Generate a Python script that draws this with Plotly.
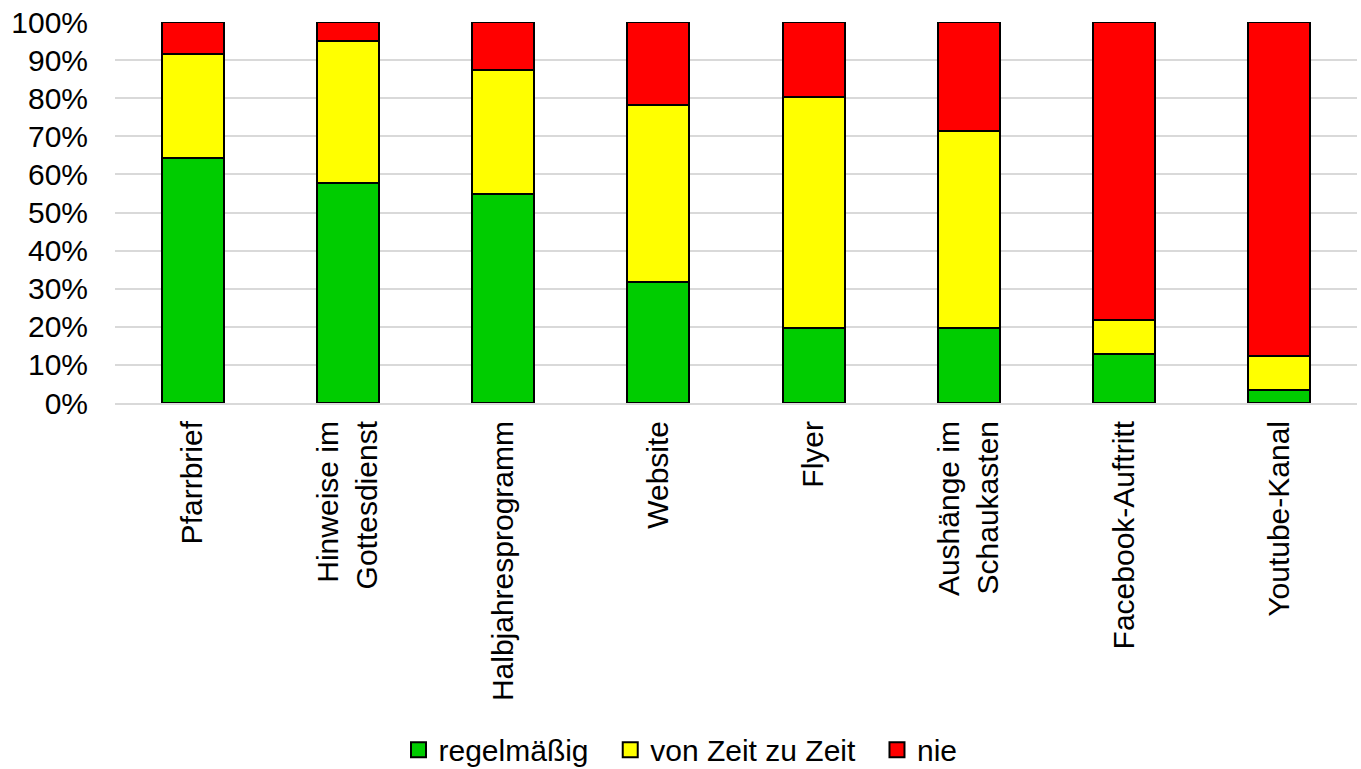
import plotly.graph_objects as go

categories = [
    "Pfarrbrief",
    "Hinweise im<br>Gottesdienst",
    "Halbjahresprogramm",
    "Website",
    "Flyer",
    "Aushänge im<br>Schaukasten",
    "Facebook-Auftritt",
    "Youtube-Kanal",
]
regelmaessig = [64.3, 57.7, 54.9, 31.8, 19.7, 19.7, 12.9, 3.4]
von_zeit_zu_zeit = [27.3, 37.3, 32.5, 46.4, 60.6, 51.7, 8.9, 8.9]
nie = [8.4, 5.0, 12.6, 21.8, 19.7, 28.6, 78.2, 87.7]
y_ticks = [0, 10, 20, 30, 40, 50, 60, 70, 80, 90, 100]

series = [
    ("regelmäßig", regelmaessig, "#00cc00"),
    ("von Zeit zu Zeit", von_zeit_zu_zeit, "#ffff00"),
    ("nie", nie, "#ff0000"),
]

fig = go.Figure()
for name, values, color in series:
    fig.add_trace(go.Bar(
        x=categories,
        y=values,
        name=name,
        legendgroup=name,
        showlegend=False,
        marker=dict(color=color, line=dict(color="#000000", width=2)),
        width=0.4,
    ))

# Legend entries: larger outlined squares than the default bar swatch
for i, (name, values, color) in enumerate(series):
    pad = "\u00a0\u00a0" if i < len(series) - 1 else ""
    fig.add_trace(go.Scatter(
        x=[None],
        y=[None],
        mode="markers",
        name=name + pad,
        legendgroup=name,
        marker=dict(symbol="square", size=15, color=color,
                    line=dict(color="#000000", width=2)),
    ))

fig.update_layout(
    barmode="stack",
    width=1361,
    height=769,
    margin=dict(l=115, r=4, t=22, b=366),
    plot_bgcolor="#ffffff",
    paper_bgcolor="#ffffff",
    font=dict(family="Liberation Sans, Arial, sans-serif", color="#000000"),
    showlegend=True,
    legend=dict(
        orientation="h",
        xref="container",
        yref="container",
        x=0.5,
        xanchor="center",
        y=0.025,
        yanchor="middle",
        font=dict(size=30),
        itemwidth=30,
        traceorder="normal",
    ),
    xaxis=dict(
        tickangle=-90,
        tickfont=dict(size=30),
        showline=True,
        linecolor="#d9d9d9",
        linewidth=2,
        ticks="",
        automargin=False,
        ticklabelstandoff=4,
    ),
    yaxis=dict(
        range=[0, 100],
        tickvals=y_ticks,
        ticktext=[f"{v}%" for v in y_ticks],
        tickfont=dict(size=30),
        showgrid=True,
        gridcolor="#d9d9d9",
        gridwidth=2,
        zeroline=False,
        ticks="",
        automargin=False,
        ticklabelstandoff=26,
    ),
)

fig.write_html("out.html")
